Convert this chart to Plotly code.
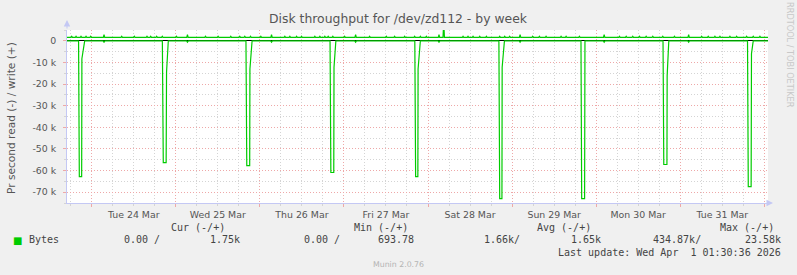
import plotly.graph_objects as go
from datetime import datetime, timedelta

# ---------------- data ----------------
title_text = "Disk throughput for /dev/zd112 - by week"
y_title = "Pr second read (-) / write (+)"

x_start = "2026-03-23 16:57"
x_end = "2026-04-01 01:03"

y_range = [-75000, 5000]
ytick_vals = [0, -10000, -20000, -30000, -40000, -50000, -60000, -70000]
ytick_text = ["0", "-10 k", "-20 k", "-30 k", "-40 k", "-50 k", "-60 k", "-70 k"]

# read (negative side): explicit points
read_times = [
    "2026-03-23 16:00",
    "2026-03-23 20:15", "2026-03-23 20:28", "2026-03-23 21:08", "2026-03-23 21:12", "2026-03-23 22:00",
    "2026-03-24 03:16", "2026-03-24 03:31", "2026-03-24 03:46",
    "2026-03-24 20:10", "2026-03-24 20:26", "2026-03-24 21:15", "2026-03-24 21:22", "2026-03-24 21:52",
    "2026-03-25 03:05", "2026-03-25 03:20", "2026-03-25 03:35",
    "2026-03-25 20:02", "2026-03-25 20:16", "2026-03-25 21:06", "2026-03-25 21:10", "2026-03-25 21:47",
    "2026-03-26 03:05", "2026-03-26 03:20", "2026-03-26 03:35",
    "2026-03-26 20:02", "2026-03-26 20:16", "2026-03-26 21:06", "2026-03-26 21:10", "2026-03-26 21:42",
    "2026-03-27 03:05", "2026-03-27 03:20", "2026-03-27 03:35",
    "2026-03-27 20:14", "2026-03-27 20:28", "2026-03-27 21:06", "2026-03-27 21:10", "2026-03-27 21:49",
    "2026-03-28 02:53", "2026-03-28 03:08", "2026-03-28 03:23",
    "2026-03-28 20:14", "2026-03-28 20:28", "2026-03-28 21:06", "2026-03-28 21:10", "2026-03-28 21:49",
    "2026-03-29 02:02", "2026-03-29 02:17", "2026-03-29 02:32",
    "2026-03-29 19:40", "2026-03-29 19:52", "2026-03-29 20:42", "2026-03-29 20:48",
    "2026-03-30 02:02", "2026-03-30 02:17", "2026-03-30 02:32",
    "2026-03-30 19:05", "2026-03-30 19:18", "2026-03-30 20:12", "2026-03-30 20:16", "2026-03-30 20:44",
    "2026-03-31 02:09", "2026-03-31 02:24", "2026-03-31 02:39",
    "2026-03-31 19:12", "2026-03-31 19:25", "2026-03-31 20:14", "2026-03-31 20:20", "2026-03-31 20:50",
    "2026-04-01 01:30",
]
read_values = [
    0,
    0, -62800, -62800, -8300, 0,
    0, -600, 0,
    0, -56300, -56300, -14400, 0,
    0, -600, 0,
    0, -57700, -57700, -13000, 0,
    0, -600, 0,
    0, -60900, -60900, -12200, 0,
    0, -600, 0,
    0, -62800, -62800, -13000, 0,
    0, -600, 0,
    0, -73000, -73000, -12200, 0,
    0, -600, 0,
    0, -73000, -73000, 0,
    0, -600, 0,
    0, -57200, -57200, -16100, 0,
    0, -600, 0,
    0, -67400, -67400, -6000, 0,
    0,
]

# write (positive side): base level with bumps
write_base = 1600
write_bump_times = [
    "2026-03-23 18:18", "2026-03-23 19:32", "2026-03-23 20:57", "2026-03-23 22:23", "2026-03-23 23:43",
    "2026-03-24 03:31", "2026-03-24 08:34", "2026-03-24 12:10", "2026-03-24 15:47", "2026-03-24 16:51",
    "2026-03-24 18:33", "2026-03-24 20:09",
    "2026-03-25 00:12", "2026-03-25 03:20", "2026-03-25 08:29", "2026-03-25 12:05", "2026-03-25 15:42",
    "2026-03-25 18:16", "2026-03-25 19:42", "2026-03-25 21:20",
    "2026-03-26 00:17", "2026-03-26 03:20", "2026-03-26 07:08", "2026-03-26 08:34", "2026-03-26 10:29",
    "2026-03-26 11:54", "2026-03-26 15:42", "2026-03-26 17:08", "2026-03-26 18:33", "2026-03-26 19:30",
    "2026-03-26 20:50",
    "2026-03-27 00:12", "2026-03-27 03:20", "2026-03-27 07:20", "2026-03-27 12:06", "2026-03-27 14:28",
    "2026-03-27 17:20", "2026-03-27 20:11", "2026-03-27 21:49", "2026-03-27 23:31",
    "2026-03-28 03:08", "2026-03-28 04:29", "2026-03-28 10:00", "2026-03-28 11:25", "2026-03-28 12:51",
    "2026-03-28 14:46", "2026-03-28 16:40", "2026-03-28 20:28", "2026-03-28 21:54", "2026-03-28 23:19",
    "2026-03-29 02:17", "2026-03-29 05:53", "2026-03-29 07:48", "2026-03-29 09:42", "2026-03-29 13:59",
    "2026-03-29 15:25", "2026-03-29 19:13",
    "2026-03-30 02:17", "2026-03-30 06:39", "2026-03-30 08:34", "2026-03-30 10:27", "2026-03-30 12:22",
    "2026-03-30 14:16", "2026-03-30 16:10", "2026-03-30 19:01", "2026-03-30 22:21",
    "2026-03-31 02:24", "2026-03-31 06:07", "2026-03-31 07:59", "2026-03-31 09:54", "2026-03-31 11:20",
    "2026-03-31 14:11", "2026-03-31 16:06", "2026-03-31 18:57", "2026-03-31 20:50", "2026-03-31 22:45",
]
write_bump_values = [
    2100, 2100, 2100, 2100, 2100,
    2900, 2100, 2100, 2100, 2100,
    2100, 2100,
    2100, 2900, 2100, 2100, 2100,
    2100, 2100, 2100,
    2100, 2900, 2100, 2100, 2100,
    2100, 2100, 2100, 2100, 2100,
    2100,
    2100, 2900, 2100, 2100, 2100,
    2100, 2100, 2100, 2100,
    2900, 9000, 2100, 2100, 2100,
    2100, 2100, 2100, 2100, 2100,
    2900, 2100, 2100, 2100, 2100,
    2100, 2100,
    2900, 2100, 2100, 2100, 2100,
    2100, 2100, 2100, 2100,
    2900, 2100, 2100, 2100, 2100,
    2100, 2100, 2100, 2100, 2100,
]

legend_name = "Bytes"
stat_headers = ["Cur (-/+)", "Min (-/+)", "Avg (-/+)", "Max (-/+)"]
stat_read = ["0.00 /", "0.00 /", "1.66k/", "434.87k/"]
stat_write = ["1.75k", "693.78", "1.65k", "23.58k"]
last_update = "Last update: Wed Apr \u00a01 01:30:36 2026"
footer = "Munin 2.0.76"
watermark = "RRDTOOL / TOBI OETIKER"

# ---------------- build write line table ----------------
fmt = "%Y-%m-%d %H:%M"
half = timedelta(minutes=12)
w_pts = [(datetime.strptime(read_times[0], fmt), write_base),
         (datetime.strptime(read_times[-1], fmt), write_base)]
for t, v in zip(write_bump_times, write_bump_values):
    tt = datetime.strptime(t, fmt)
    w_pts += [(tt - half, write_base), (tt, v), (tt + half, write_base)]
w_pts.sort(key=lambda p: p[0])
write_x = [p[0] for p in w_pts]
write_y = [p[1] for p in w_pts]

GREEN = "#00cc00"
fig = go.Figure()
fig.add_trace(go.Scatter(x=read_times, y=read_values, mode="lines",
                         line=dict(color=GREEN, width=1.2), hoverinfo="skip"))
fig.add_trace(go.Scatter(x=write_x, y=write_y, mode="lines",
                         line=dict(color=GREEN, width=1.2), hoverinfo="skip"))

# ---------------- layout ----------------
W, H = 797, 275
L, R, T, B = 67, 768, 30, 203
def px(x):
    return (x - L) / (R - L)
def py(y):
    return (B - y) / (B - T)

AXIS = "#c4c8f4"
MAJ = "#eea8a8"
MIN = "#d4d4d4"
TXT = "#555555"
DASH = "1px,2px"

fig.update_layout(
    width=W, height=H,
    margin=dict(l=L, r=W - R, t=T, b=H - B, pad=0),
    paper_bgcolor="#f0f0f0", plot_bgcolor="#ffffff",
    showlegend=False,
    font=dict(family="DejaVu Sans", size=9.3, color=TXT),
)
fig.update_xaxes(
    type="date", range=[x_start, x_end],
    tick0="2026-03-24 00:00", dtick=86400000, ticklabelmode="period",
    tickformat="%a %d %b",
    showgrid=True, gridcolor=MAJ, griddash=DASH, gridwidth=1,
    ticks="outside", ticklen=3, tickcolor=MAJ,
    minor=dict(dtick=21600000, tick0="2026-03-24 00:00", showgrid=True, gridcolor=MIN,
               griddash=DASH, ticks="outside", ticklen=2, tickcolor=MIN),
    showline=True, linecolor=AXIS, linewidth=1, zeroline=False,
    tickfont=dict(family="DejaVu Sans", size=9.4, color=TXT),
)
fig.update_yaxes(
    range=y_range, tickvals=ytick_vals, ticktext=ytick_text,
    showgrid=True, gridcolor=MAJ, griddash=DASH, gridwidth=1,
    ticks="outside", ticklen=3, tickcolor=MAJ,
    minor=dict(dtick=5000, tick0=0, showgrid=True, gridcolor=MIN, griddash=DASH,
               ticks="outside", ticklen=2, tickcolor=MIN),
    showline=True, linecolor=AXIS, linewidth=1,
    zeroline=True, zerolinecolor="#000000", zerolinewidth=1.2,
    tickfont=dict(family="DejaVu Sans", size=9.4, color=TXT),
    ticklabelstandoff=5,
)

ann = []
ann.append(dict(text=title_text, x=px(398), y=py(18), xref="paper", yref="paper",
                showarrow=False, xanchor="center", yanchor="middle",
                font=dict(family="DejaVu Sans", size=12.4, color="#555555")))
ann.append(dict(text=y_title, x=px(11), y=py(118), xref="paper", yref="paper",
                showarrow=False, textangle=-90, xanchor="center", yanchor="middle",
                font=dict(family="DejaVu Sans", size=10.6, color=TXT)))
ann.append(dict(text=watermark, x=px(790), y=py(55), xref="paper", yref="paper",
                showarrow=False, textangle=90, xanchor="center", yanchor="middle",
                font=dict(family="DejaVu Sans", size=8.2, color="#c8c8c8")))
# axis arrows
ann.append(dict(text="", x=px(67), y=py(20), xref="paper", yref="paper",
                showarrow=True, ax=0, ay=10, arrowhead=2, arrowsize=1.3, arrowwidth=1,
                arrowcolor=AXIS))
ann.append(dict(text="", x=px(773), y=py(203), xref="paper", yref="paper",
                showarrow=True, ax=-6, ay=0, arrowhead=2, arrowsize=1.3, arrowwidth=1,
                arrowcolor=AXIS))

MONO = dict(family="DejaVu Sans Mono", size=10, color="#444444")
header_right = [227, 410, 593, 776]
read_right = [162, 342, 522, 703]
write_right = [242, 416, 603, 783]
for h, xr in zip(stat_headers, header_right):
    ann.append(dict(text=h, x=px(xr), y=py(227), xref="paper", yref="paper",
                    showarrow=False, xanchor="right", yanchor="middle", font=MONO))
for v, xr in zip(stat_read, read_right):
    ann.append(dict(text=v, x=px(xr), y=py(239.5), xref="paper", yref="paper",
                    showarrow=False, xanchor="right", yanchor="middle", font=MONO))
for v, xr in zip(stat_write, write_right):
    ann.append(dict(text=v, x=px(xr), y=py(239.5), xref="paper", yref="paper",
                    showarrow=False, xanchor="right", yanchor="middle", font=MONO))
ann.append(dict(text="\u25a0", x=px(17), y=py(240), xref="paper", yref="paper",
                showarrow=False, xanchor="center", yanchor="middle",
                font=dict(family="DejaVu Sans", size=10, color=GREEN)))
ann.append(dict(text=legend_name, x=px(27), y=py(239.5), xref="paper", yref="paper",
                showarrow=False, xanchor="left", yanchor="middle", font=MONO))
ann.append(dict(text=last_update, x=px(783), y=py(252), xref="paper", yref="paper",
                showarrow=False, xanchor="right", yanchor="middle", font=MONO))
ann.append(dict(text=footer, x=px(398), y=py(264), xref="paper", yref="paper",
                showarrow=False, xanchor="center", yanchor="middle",
                font=dict(family="DejaVu Sans", size=7.8, color="#b4b4b4")))
fig.update_layout(annotations=ann)

fig.write_html("out.html")
